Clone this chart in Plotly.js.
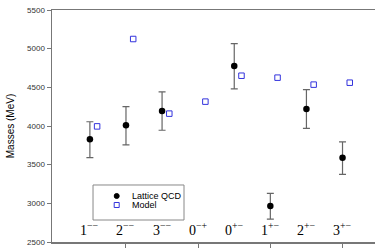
<!DOCTYPE html>
<html><head><meta charset="utf-8">
<script src="https://cdn.plot.ly/plotly-3.0.1.min.js"></script>
<style>html,body{margin:0;padding:0;background:#fff;}#c{width:375px;height:248px;}</style>
</head><body><div id="c"></div>
<script>
const categories = ["1<sup>−−</sup>","2<sup>−−</sup>","3<sup>−−</sup>","0<sup>−+</sup>","0<sup>+−</sup>","1<sup>+−</sup>","2<sup>+−</sup>","3<sup>+−</sup>"];
const categoryPos = [1,2,3,4,5,6,7,8];
const latticeIdx = [0,1,2,4,5,6,7];
const latticeMass = [3830,4010,4195,4775,2965,4220,3590];
const latticeErrPlus = [225,240,245,290,165,250,205];
const latticeErrMinus = [240,255,250,295,170,250,215];
const modelMass = [3995,5125,4160,4315,4650,4625,4535,4560];
const modelOffset = 0.2;
const yTicks = [2500,3000,3500,4000,4500,5000,5500];
const legendNames = ["Lattice QCD", "Model"];

const blue = "#3333dd";
const lattice = {
  x: latticeIdx.map(i => categoryPos[i]), y: latticeMass, name: legendNames[0],
  mode: "markers", type: "scatter",
  marker: {color: "#000", size: 6.5, symbol: "circle"},
  error_y: {type: "data", array: latticeErrPlus, arrayminus: latticeErrMinus, symmetric: false, color: "#666", thickness: 1.2, width: 3.5},
};
const model = {
  x: categoryPos.map(p => p + modelOffset), y: modelMass, name: legendNames[1],
  mode: "markers", type: "scatter",
  marker: {color: blue, size: 5.5, symbol: "square-open", line: {color: blue, width: 1}},
};
const font9 = {family: "Liberation Sans, Arial, sans-serif", size: 9, color: "#000"};
const annotations = categories.map((c, i) => ({
  x: categoryPos[i], y: 2670, xref: "x", yref: "y", text: c, showarrow: false,
  font: {family: "Liberation Serif, Times New Roman, serif", size: 14, color: "#000"},
  xanchor: "center", yanchor: "middle"
}));
// manual legend (compact spacing as in reference)
const legX0 = 0.127, legX1 = 0.4087, legY0 = 0.0948, legY1 = 0.2457;
const symX = 0.2003, txtX = 0.2415, rowY = [0.1983, 0.1595];
legendNames.forEach((n, i) => annotations.push({
  x: txtX, y: rowY[i], xref: "paper", yref: "paper", text: n, showarrow: false,
  font: font9, xanchor: "left", yanchor: "middle"
}));
const shapes = [
  {type: "rect", xref: "paper", yref: "paper", x0: legX0, x1: legX1, y0: legY0, y1: legY1,
   line: {color: "#888", width: 1}, fillcolor: "#fff", layer: "above"},
  {type: "circle", xref: "paper", yref: "paper", xsizemode: "pixel", ysizemode: "pixel",
   xanchor: symX, yanchor: rowY[0], x0: -2.5, x1: 2.5, y0: -2.5, y1: 2.5,
   fillcolor: "#000", line: {color: "#000", width: 1}, layer: "above"},
  {type: "rect", xref: "paper", yref: "paper", xsizemode: "pixel", ysizemode: "pixel",
   xanchor: symX, yanchor: rowY[1], x0: -2.5, x1: 2.5, y0: -2.5, y1: 2.5,
   fillcolor: "rgba(0,0,0,0)", line: {color: blue, width: 1}, layer: "above"}
];
const layout = {
  width: 375, height: 248,
  margin: {l: 52, r: 0, t: 10, b: 6},
  paper_bgcolor: "#fff", plot_bgcolor: "#fff",
  showlegend: false,
  xaxis: {range: [-0.05, 8.9], showgrid: false, zeroline: false, showline: true, linecolor: "#777", linewidth: 1.5, mirror: true,
          tickmode: "array", tickvals: [2,4,6,8], ticktext: ["","","",""], ticks: "outside", ticklen: 5, tickcolor: "#777", fixedrange: true},
  yaxis: {range: [2500, 5500], showgrid: false, zeroline: false, showline: true, linecolor: "#777", linewidth: 1.5,
          tickmode: "array", tickvals: yTicks, ticks: "outside", ticklen: 4, tickcolor: "#777",
          tickfont: {family: "Liberation Sans, Arial, sans-serif", size: 8, color: "#333"},
          title: {text: "Masses (MeV)", font: {family: "Liberation Sans, Arial, sans-serif", size: 10, color: "#000"}, standoff: 10}},
  annotations: annotations,
  shapes: shapes
};
Plotly.newPlot("c", [lattice, model], layout, {displayModeBar: false, staticPlot: true});
</script></body></html>
